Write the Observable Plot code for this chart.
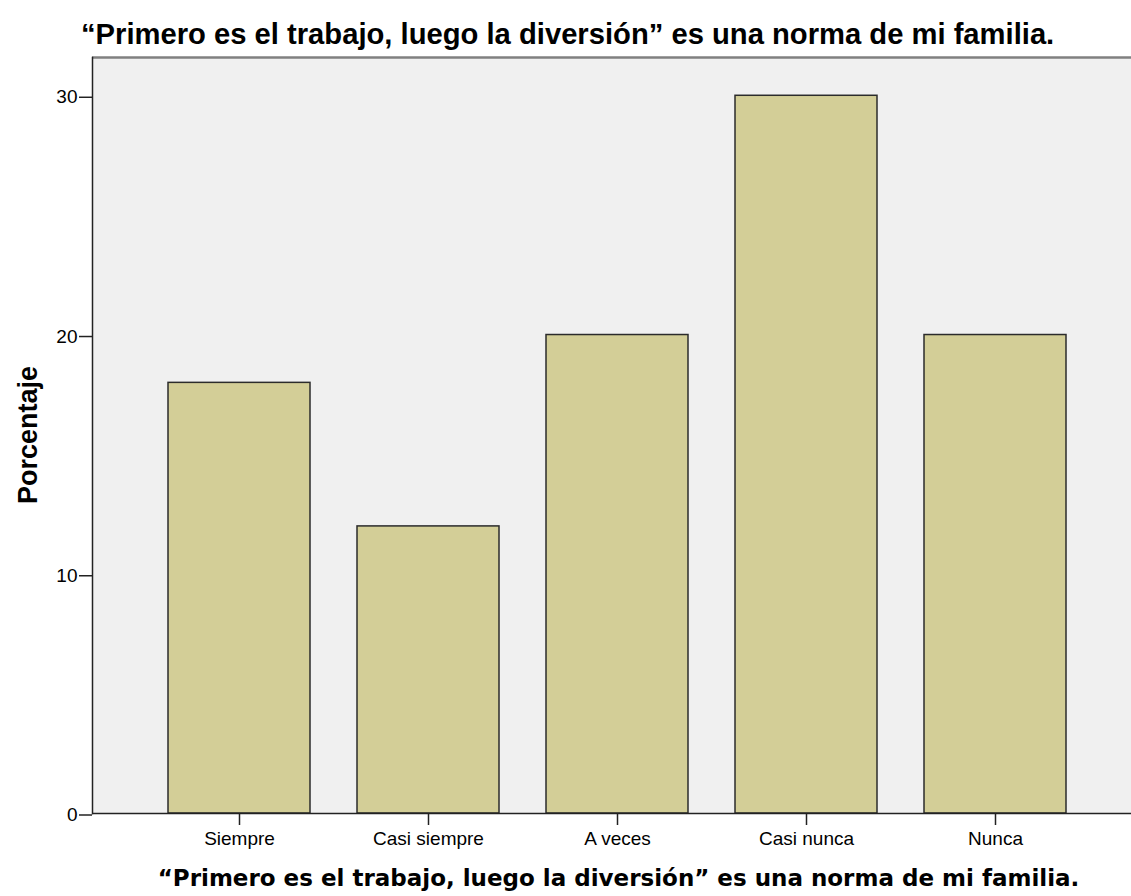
<!DOCTYPE html>
<html>
<head>
<meta charset="utf-8">
<script src="https://cdn.jsdelivr.net/npm/d3@7"></script>
<script src="https://cdn.jsdelivr.net/npm/@observablehq/plot@0.6"></script>
<style>
  html, body { margin: 0; padding: 0; background: #fff; }
  #wrap { position: relative; width: 1131px; height: 896px; overflow: hidden; }
  #title { position: absolute; left: 81px; top: 18px; line-height: 29px; font: bold 29.2px "Liberation Sans", Arial, sans-serif; color: #000; white-space: nowrap; }
  #xtitle { position: absolute; left: 0; width: 1237px; top: 865px; line-height: 23px; text-align: center; font: bold 23px "DejaVu Sans", sans-serif; color: #000; white-space: nowrap; }
  #ytitle { position: absolute; left: 28px; top: 435px; line-height: 27px; transform: translate(-50%, -50%) rotate(-90deg); font: bold 27px "Liberation Sans", Arial, sans-serif; color: #000; white-space: nowrap; }
  #chart svg { display: block; }
</style>
</head>
<body>
<div id="wrap">
  <div id="chart"></div>
  <div id="title"></div>
  <div id="xtitle"></div>
  <div id="ytitle"></div>
</div>
<script>
const titleText = "“Primero es el trabajo, luego la diversión” es una norma de mi familia.";
const yLabel = "Porcentaje";
const categories = ["Siempre", "Casi siempre", "A veces", "Casi nunca", "Nunca"];
const percentages = [18, 12, 20, 30, 20];
const yTicks = [0, 10, 20, 30];
const yMax = 31.6;

const data = categories.map((c, i) => ({category: c, value: percentages[i]}));

document.getElementById("title").textContent = titleText;
document.getElementById("xtitle").textContent = titleText;
document.getElementById("ytitle").textContent = yLabel;

const chart = Plot.plot({
  width: 1131,
  height: 896,
  marginTop: 57,
  marginLeft: 92,
  marginRight: 0,
  marginBottom: 83,
  style: { fontFamily: "'Liberation Sans', Arial, sans-serif", fontSize: "19px", color: "#000", background: "transparent" },
  x: { domain: categories, range: [168, 1066], paddingInner: 0.249, paddingOuter: 0, label: null },
  y: { domain: [0, yMax], label: null },
  marks: [
    Plot.frame({ fill: "#f0f0f0", stroke: null }),
    Plot.barY(data, { x: "category", y: "value", fill: "#d3ce97", stroke: "#2b2b2b", strokeWidth: 1.5 }),
    Plot.ruleY([yMax], { stroke: "#808080", strokeWidth: 2.5 }),
    Plot.frame({ anchor: "left", stroke: "#222", strokeWidth: 1.5 }),
    Plot.ruleY([0], { stroke: "#222", strokeWidth: 1.5 }),
    Plot.axisY({ ticks: yTicks, tickSize: 13, tickPadding: 2, tickFormat: d => d, stroke: "#222", strokeWidth: 1.5, label: null, fontSize: 19, dy: 1.5 }),
    Plot.axisX({ tickSize: 12, tickPadding: 6, stroke: "#222", strokeWidth: 1.5, label: null, fontSize: 19 })
  ]
});
document.getElementById("chart").appendChild(chart);
</script>
</body>
</html>
